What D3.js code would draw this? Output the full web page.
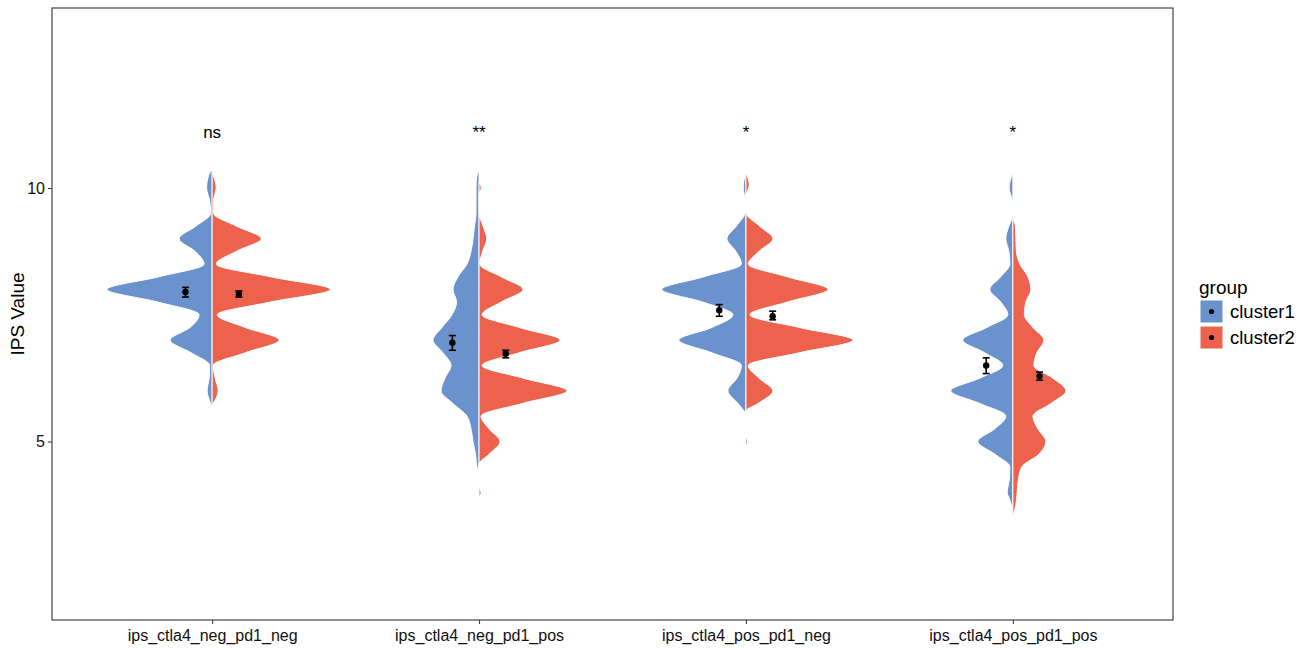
<!DOCTYPE html>
<meta charset="utf-8">
<style>
body { margin: 0; background: #fff; }
text { font-family: "Liberation Sans", Arial, sans-serif; }
.axis text { font-size: 16px; fill: #111; }
.axis path, .axis line { stroke: #333; }
</style>
<svg id="chart" width="1308" height="649"></svg>
<script src="https://d3js.org/d3.v7.min.js"></script>
<script>

var categories = ["ips_ctla4_neg_pd1_neg", "ips_ctla4_neg_pd1_pos", "ips_ctla4_pos_pd1_neg", "ips_ctla4_pos_pd1_pos"];
var groups = ["cluster1", "cluster2"];
var groupColors = ["#6A92CC", "#EC624C"];
var sigLabels = ["ns", "**", "*", "*"];
var sigValue = 11;
var yTicks = [5, 10];

// mean and error bar of each group, per category
var cluster1Mean = [7.95, 6.95, 7.59, 6.50];
var cluster1Low = [7.85, 6.80, 7.47, 6.34];
var cluster1High = [8.04, 7.09, 7.70, 6.65];
var cluster2Mean = [7.91, 6.73, 7.47, 6.29];
var cluster2Low = [7.85, 6.65, 7.40, 6.21];
var cluster2High = [7.97, 6.80, 7.57, 6.37];

// density outline [IPS value, density], top to bottom
var cluster1Density = [
  [[10.36,0],[10.25,3.5],[10.0,5.5],[9.75,2.5],[9.5,1.5],[9.25,16],[9.0,33],[8.75,17],[8.5,8],[8.25,53],[8.0,105],[7.75,54],[7.5,13],[7.25,22],[7.0,42],[6.75,21],[6.5,2.5],[6.25,3],[6.0,5],[5.8,2.5],[5.66,0]],
  [[10.36,0],[10.2,2.5],[10.0,3],[9.5,3],[9.25,4.5],[9.0,6],[8.75,8],[8.5,12],[8.25,21],[8.0,26],[7.75,22.5],[7.5,27],[7.25,37],[7.0,46],[6.75,36],[6.5,28],[6.25,34],[6.0,38],[5.75,26],[5.5,12],[5.25,8],[5.0,6],[4.75,3.5],[4.5,2],[4.38,0]],
  [[10.28,0],[10.15,2],[10.0,2.7],[9.85,1.5],[9.7,0],[9.5,1],[9.25,9.5],[9.0,19],[8.75,10],[8.5,4.5],[8.25,42],[8.0,84],[7.75,43],[7.5,13],[7.25,34],[7.0,67],[6.75,34],[6.5,4.5],[6.25,9],[6.0,18],[5.75,8],[5.56,0]],
  [[10.3,0],[10.0,3.7],[9.7,0],[9.6,0],[9.4,1],[9.25,4],[9.0,7],[8.75,4],[8.5,3],[8.25,12],[8.0,23],[7.75,12],[7.5,5],[7.25,26],[7.0,50],[6.75,28],[6.5,10],[6.25,33],[6.0,62],[5.75,33],[5.5,7],[5.25,18],[5.0,35],[4.75,18],[4.5,3],[4.25,3.5],[4.0,5.7],[3.85,3],[3.65,0]]
];
var cluster2Density = [
  [[10.3,0],[10.2,2],[10.0,4],[9.75,1.5],[9.5,1.5],[9.25,24],[9.0,49],[8.75,24],[8.5,4],[8.25,58],[8.0,118],[7.75,58],[7.5,5],[7.25,33],[7.0,67],[6.75,33],[6.5,1],[6.25,3],[6.0,6],[5.8,2.5],[5.72,0]],
  [[10.12,0],[10.0,2.2],[9.88,0],[9.5,0],[9.25,4],[9.0,7.7],[8.75,3.5],[8.5,0.7],[8.25,22],[8.0,44],[7.75,22],[7.5,3],[7.25,40],[7.0,81],[6.75,40],[6.5,3],[6.25,44],[6.0,88],[5.75,43],[5.5,2],[5.25,10],[5.0,21],[4.75,10],[4.55,0],[4.1,0],[4.0,2],[3.9,0]],
  [[10.3,0],[10.06,3.3],[9.83,0],[9.5,0.5],[9.25,13.5],[9.0,27],[8.75,13],[8.5,2.3],[8.25,41],[8.0,82],[7.75,41],[7.5,4],[7.25,53],[7.0,107],[6.75,53],[6.5,2.3],[6.25,13],[6.0,27],[5.75,12],[5.6,0],[5.13,0],[5.0,1.5],[4.9,0]],
  [[9.4,0],[9.25,2.5],[9.0,3],[8.75,3.5],[8.5,7],[8.25,15],[8.0,18],[7.75,13],[7.5,11.5],[7.25,20],[7.0,31],[6.75,24],[6.5,21],[6.25,40],[6.0,53],[5.75,38],[5.5,20],[5.25,25],[5.0,33],[4.75,26],[4.5,9],[4.25,5.5],[4.0,4.3],[3.75,3],[3.52,0]]
];

var svg = d3.select("#chart"),
    margin = {top: 8, right: 135, bottom: 29, left: 52},
    width = svg.attr("width") - margin.left - margin.right,
    height = svg.attr("height") - margin.top - margin.bottom;

var g = svg.append("g")
    .attr("transform", "translate(" + margin.left + "," + margin.top + ")");

var x = d3.scalePoint()
    .domain(categories)
    .range([0, width])
    .padding(0.6);

var y = d3.scaleLinear()
    .domain([1.48, 13.55])
    .range([height, 0]);

// half violin width, largest density gets 0.45 of a category step
var w = d3.scaleLinear()
    .domain([0, 120])
    .range([0, x.step() * 0.45]);

var dodge = x.step() * 0.1;

var halves = [];
categories.forEach(function(c, i) {
  halves.push({cat: c, side: -1, color: groupColors[0], pts: cluster1Density[i]});
  halves.push({cat: c, side: 1, color: groupColors[1], pts: cluster2Density[i]});
});

g.selectAll(".half")
    .data(halves)
  .enter().append("path")
    .attr("class", "half")
    .attr("fill", function(d) { return d.color; })
    .attr("stroke", "#fff")
    .attr("stroke-width", 1)
    .attr("d", function(d) {
      var cx = x(d.cat);
      return d3.area()
          .curve(d3.curveMonotoneY)
          .y(function(p) { return y(p[0]); })
          .x0(cx)
          .x1(function(p) { return cx + d.side * w(p[1]); })(d.pts);
    });

// error bars and means
var stats = [];
categories.forEach(function(c, i) {
  stats.push({cat: c, side: -1, mean: cluster1Mean[i], lo: cluster1Low[i], hi: cluster1High[i]});
  stats.push({cat: c, side: 1, mean: cluster2Mean[i], lo: cluster2Low[i], hi: cluster2High[i]});
});

var eb = g.selectAll(".eb")
    .data(stats)
  .enter().append("g")
    .attr("class", "eb")
    .attr("transform", function(d) { return "translate(" + (x(d.cat) + d.side * dodge) + ",0)"; });

eb.append("line")
    .attr("y1", function(d) { return y(d.lo); })
    .attr("y2", function(d) { return y(d.hi); })
    .attr("stroke", "#000").attr("stroke-width", 1.6);
eb.append("line")
    .attr("x1", -3.5).attr("x2", 3.5)
    .attr("y1", function(d) { return y(d.lo); })
    .attr("y2", function(d) { return y(d.lo); })
    .attr("stroke", "#000").attr("stroke-width", 1.6);
eb.append("line")
    .attr("x1", -3.5).attr("x2", 3.5)
    .attr("y1", function(d) { return y(d.hi); })
    .attr("y2", function(d) { return y(d.hi); })
    .attr("stroke", "#000").attr("stroke-width", 1.6);
eb.append("circle")
    .attr("cy", function(d) { return y(d.mean); })
    .attr("r", 3.2)
    .attr("fill", "#000");

// significance labels
g.selectAll(".sig")
    .data(sigLabels)
  .enter().append("text")
    .attr("class", "sig")
    .attr("x", function(d, i) { return x(categories[i]); })
    .attr("y", y(sigValue))
    .attr("dy", "0.06em")
    .attr("text-anchor", "middle")
    .style("font-size", "17px")
    .attr("fill", "#000")
    .text(function(d) { return d; });

// axes
g.append("g")
    .attr("class", "axis")
    .attr("transform", "translate(0," + height + ")")
    .call(d3.axisBottom(x).tickSize(4).tickPadding(6))
    .call(function(a) { a.select(".domain").remove(); });

g.append("g")
    .attr("class", "axis")
    .call(d3.axisLeft(y).tickValues(yTicks).tickSize(4).tickPadding(3))
    .call(function(a) { a.select(".domain").remove(); });

g.append("rect")
    .attr("width", width)
    .attr("height", height)
    .attr("fill", "none")
    .attr("stroke", "#333")
    .attr("stroke-width", 1.1);

svg.append("text")
    .attr("transform", "translate(24," + (margin.top + height / 2) + ") rotate(-90)")
    .attr("text-anchor", "middle")
    .style("font-size", "19px")
    .attr("fill", "#000")
    .text("IPS Value");

// legend
var legend = svg.append("g")
    .attr("transform", "translate(1200,280)");

legend.append("text")
    .attr("x", -1)
    .attr("y", 14)
    .style("font-size", "19px")
    .text("group");

var key = legend.selectAll(".key")
    .data(groups)
  .enter().append("g")
    .attr("class", "key")
    .attr("transform", function(d, i) { return "translate(0," + (20 + i * 26) + ")"; });

key.append("rect")
    .attr("width", 23)
    .attr("height", 23)
    .attr("fill", function(d, i) { return groupColors[i]; })
    .attr("stroke", "#fff");
key.append("circle")
    .attr("cx", 11.5)
    .attr("cy", 11.5)
    .attr("r", 2.6)
    .attr("fill", "#000");
key.append("text")
    .attr("x", 30)
    .attr("y", 11.5)
    .attr("dy", "0.35em")
    .style("font-size", "18.5px")
    .text(function(d) { return d; });

</script>
